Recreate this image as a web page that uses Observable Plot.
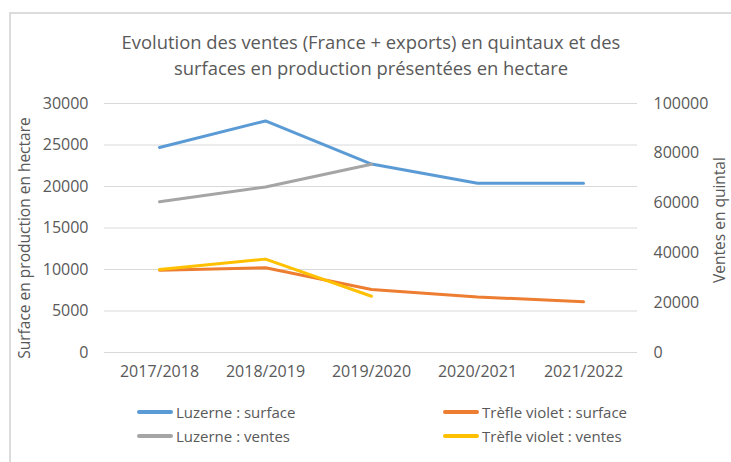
<!DOCTYPE html>
<html>
<head>
<meta charset="utf-8">
<script src="https://cdn.jsdelivr.net/npm/d3@7"></script>
<script src="https://cdn.jsdelivr.net/npm/@observablehq/plot@0.6"></script>
<style>
  html, body { margin: 0; padding: 0; background: #fff; width: 731px; height: 462px; overflow: hidden; }
  #frame { position: absolute; left: 9px; top: 12px; width: 740px; height: 470px;
           border-left: 2px solid #dcdcdc; border-top: 2px solid #dcdcdc; box-sizing: border-box;
           font-family: "Open Sans", Lato, sans-serif; color: #595959; }
  #title { width: 720px; height: 71px; box-sizing: border-box; padding-top: 15px; text-align: center;
           font-size: 18.4px; line-height: 26px; }
  #chart svg { display: block; }
  #legend { position: relative; width: 720px; height: 60px; font-size: 15px; }
  .item { position: absolute; display: flex; align-items: center; height: 24px; }
  .swatch { width: 36px; height: 4px; border-radius: 2px; margin-right: 3px; }
</style>
</head>
<body>
<div id="frame">
  <div id="title">Evolution des ventes (France + exports) en quintaux et des<br>surfaces en production présentées en hectare</div>
  <div id="chart"></div>
  <div id="legend"></div>
</div>
<script>
const years = ["2017/2018", "2018/2019", "2019/2020", "2020/2021", "2021/2022"];
const luzerneSurface = [24700, 27900, 22700, 20400, 20400];
const trefleSurface = [9900, 10200, 7600, 6700, 6100];
const luzerneVentes = [60500, 66500, 75600, null, null];
const trefleVentes = [33300, 37500, 22600, null, null];
const leftTicks = [0, 5000, 10000, 15000, 20000, 25000, 30000];
const rightTicks = [0, 20000, 40000, 60000, 80000, 100000];
const leftTitle = "Surface en production en hectare";
const rightTitle = "Ventes en quintal";

const series = [
  {name: "Luzerne : surface", values: luzerneSurface, axis: "left", color: "#5B9BD5"},
  {name: "Trèfle violet : surface", values: trefleSurface, axis: "left", color: "#ED7D31"},
  {name: "Luzerne : ventes", values: luzerneVentes, axis: "right", color: "#A5A5A5"},
  {name: "Trèfle violet : ventes", values: trefleVentes, axis: "right", color: "#FFC000"}
];
const leftMax = 30000, rightMax = 100000;
const k = leftMax / rightMax; // secondary axis mapped onto the primary scale

const rows = [];
series.forEach(s => s.values.forEach((v, i) => {
  if (v != null) rows.push({series: s.name, year: years[i], y: s.axis === "left" ? v : v * k});
}));

const lineMarks = series.map(s => Plot.line(rows.filter(r => r.series === s.name), {
  x: "year", y: "y", stroke: s.color, strokeWidth: 3, strokeLinejoin: "round", strokeLinecap: "round"
}));

const chart = Plot.plot({
  width: 720, height: 305,
  marginLeft: 93, marginRight: 94, marginTop: 18, marginBottom: 38,
  style: {fontFamily: "'Open Sans', Lato, sans-serif", fontSize: "16px", color: "#595959", background: "transparent", overflow: "visible"},
  x: {type: "point", domain: years, padding: 0.5},
  y: {domain: [0, leftMax]},
  marks: [
    Plot.ruleY(leftTicks, {stroke: "#d9d9d9", strokeWidth: 1}),
    Plot.axisX({tickSize: 0, tickPadding: 13, label: null, fill: "#595959"}),
    Plot.axisY(leftTicks, {anchor: "left", tickSize: 0, tickPadding: 16, label: null, tickFormat: d => String(d), fill: "#595959"}),
    Plot.axisY(rightTicks.map(d => d * k), {anchor: "right", tickSize: 0, tickPadding: 16, label: null, tickFormat: d => String(Math.round(d / k)), fill: "#595959"}),
    Plot.text([leftTitle], {frameAnchor: "left", text: d => d, rotate: -90, textAnchor: "middle", lineAnchor: "middle", dx: -79, dy: 10, fill: "#595959", fontSize: 15.5}),
    Plot.text([rightTitle], {frameAnchor: "right", text: d => d, rotate: -90, textAnchor: "middle", lineAnchor: "middle", dx: 83, dy: -8, fill: "#595959", fontSize: 15.5}),
    ...lineMarks
  ]
});
document.getElementById("chart").append(chart);

const legend = document.getElementById("legend");
const legendPos = [
  {left: 126, top: 10}, {left: 432, top: 10},
  {left: 126, top: 34}, {left: 432, top: 34}
];
series.forEach((s, i) => {
  const el = document.createElement("div");
  el.className = "item";
  el.style.left = legendPos[i].left + "px";
  el.style.top = legendPos[i].top + "px";
  el.innerHTML = `<span class="swatch" style="background:${s.color}"></span><span>${s.name}</span>`;
  legend.append(el);
});
</script>
</body>
</html>
